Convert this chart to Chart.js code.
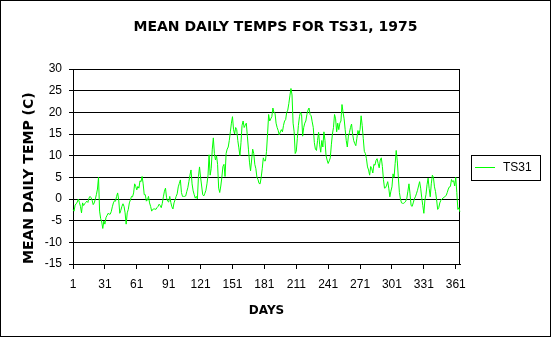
<!DOCTYPE html>
<html>
<head>
<meta charset="utf-8">
<script src="https://cdn.jsdelivr.net/npm/chart.js@4"></script>
<style>
  body { margin: 0; background: #fff; }
  canvas { display: block; }
</style>
</head>
<body>
<canvas id="chart" width="551" height="337"></canvas>
<script>
// day numbers along the x axis (categories)
const days = [];
for (let d = 1; d <= 365; d++) days.push(String(d));

// only these days get a label and a tick mark
const dayTicks = ["1", "31", "61", "91", "121", "151", "181", "211", "241", "271", "301", "331", "361"];

// y axis range
const tempMin = -15;
const tempMax = 30;
const tempStep = 5;

const seriesName = "TS31";

// mean daily temp (C)
const tempsJanMar = [
  -2.4, -2.8, -1.4, -1.1, -0.7, 0, -0.8, -1.7, -3.2, -0.9,
  -1.5, -1.1, -0.8, -0.5, -0.8, 0.2, 0.6, 0.3, -0.3, -1.3,
  -0.9, 0, 1.0, 2.3, 5.0, -2.8, -4.5, -5.3, -6.8, -5.1,
  -5.8, -4.3, -3.8, -3.3, -3.5, -3.5, -2.9, -1.8, -0.9, -0.4,
  -0.5, 0.6, 1.4, -0.2, -3.3, -2.6, -1.7, -1.1, -1.7, -3.2,
  -5.8, -3.2, -2.4, -0.9, -0.2, 0.6, 0.5, 1.4, 3.5, 2.9,
  2.1, 2.9, 2.5, 4.2, 4.0, 5.2, 3.5, 1.0, 1.0, -0.5,
  -0.2, 0.6, -0.9, -1.7, -2.8, -2.4, -2.3, -2.3, -2.4, -2.0,
  -1.7, -1.2
];
const tempsMarJun = [
  -1.5, -2.0, -1.0, 0.5, 1.8, 2.5, 0.3, -0.5, -0.7, 0.6,
  -0.8, -1.8, -2.3, -0.9, -0.2, 0.6, 1.2, 2.8, 3.6, 4.4,
  1.5, 0.6, 0.6, 0.6, 0.7, 1.7, 2.6, 4.0, 5.5, 6.7,
  3.5, 1.9, 1.0, 0.2, 0.6, 0, 5.2, 7.4, 5.0, 3.0,
  1.0, 0.7, 1.3, 2.0, 3.5, 5.5, 10.2, 5.5, 7.0, 11.5,
  14.1, 10.5, 9.0, 10.0, 8.0, 2.5, 1.5, 3.0, 5.0, 7.5,
  8.0, 5.2, 10.5, 11.5, 12.0, 13.5, 15.5, 17.5, 19.0, 16.0,
  15.0, 16.5, 16.0, 13.5, 11.8, 10.0, 13.0, 17.0, 18.0, 16.5,
  17.0, 17.5, 14.5, 11.5, 8.5, 6.5, 9.0, 11.5, 10.5, 8.0,
  7.0, 5.0, 4.5, 3.6
];
const tempsJunSep = [
  3.5, 5.0, 7.0, 9.5, 8.8, 8.8, 11.0, 15.0, 19.5, 18.0,
  18.5, 19.0, 21.0, 20.0, 19.8, 17.5, 16.5, 15.8, 14.8, 15.5,
  16.0, 15.5, 17.0, 18.0, 18.3, 20.0, 20.5, 22.0, 23.8, 25.5,
  24.0, 17.5, 15.5, 10.5, 11.0, 14.0, 17.0, 19.0, 20.0, 19.5,
  14.5, 16.5, 17.5, 18.0, 19.5, 20.5, 21.0, 19.5, 19.2, 17.8,
  16.5, 13.0, 11.5, 11.2, 13.5, 15.4, 12.5, 10.8, 13.5, 12.0,
  15.5, 13.5, 10.0, 9.0, 8.2, 8.8, 9.5, 12.5, 15.0, 16.5,
  19.5, 18.5, 15.5, 17.5, 16.0, 17.5, 18.0, 21.8, 20.0, 18.5,
  16.0, 13.5, 12.0, 14.5, 15.3, 16.5, 17.3, 15.0, 13.5, 12.8,
  12.3, 14.0, 15.8, 15.0
];
const tempsSepDec = [
  16.0, 19.2, 17.0, 14.0, 11.0, 10.5, 9.3, 7.4, 6.7, 5.5,
  7.5, 7.0, 6.0, 8.0, 7.8, 8.9, 9.3, 8.2, 7.2, 9.0,
  9.5, 7.5, 4.5, 2.5, 2.6, 3.2, 4.0, 2.5, 0.5, 1.8,
  2.8, 5.8, 5.0, 8.2, 11.2, 8.8, 5.0, 1.5, 0, -0.9,
  -1.0, -1.0, -0.8, -0.5, 0.2, 1.8, 3.5, 1.2, -1.5, -1.7,
  -0.9, 0, 0.5, 1.2, 2.0, 3.0, 4.0, 2.5, 0.3, -1.5,
  -3.3, -0.2, 1.0, 3.3, 4.8, 2.4, 0.5, 3.5, 5.5, 5.0,
  2.8, 1.7, -0.2, -2.4, -2.0, -0.9, -0.3, 0, 0.2, 0.4,
  0.6, 0.8, 1.5, 2.3, 2.8, 2.9, 4.5, 4.0, 4.2, 3.0,
  5.0, 1.5, -2.4, -2.0, -3.0
];
const temps = tempsJanMar.concat(tempsMarJun, tempsJunSep, tempsSepDec);

const tickFont = { family: "'Liberation Sans', Arial, sans-serif", size: 12 };
const boldFont = (size) => ({ family: "'DejaVu Sans', sans-serif", size: size, weight: "bold" });

// white page, outer frame, frame round the plot
const framePlugin = {
  id: "frame",
  beforeDraw(chart) {
    const ctx = chart.ctx;
    ctx.save();
    ctx.fillStyle = "#fff";
    ctx.fillRect(0, 0, chart.width, chart.height);
    ctx.restore();
  },
  beforeDatasetsDraw(chart) {
    const { ctx, chartArea: a } = chart;
    ctx.save();
    ctx.strokeStyle = "#000";
    ctx.lineWidth = 1;
    ctx.strokeRect(Math.round(a.left) + 0.5, Math.round(a.top) + 0.5,
      Math.round(a.right - a.left) - 1, Math.round(a.bottom - a.top));
    ctx.restore();
  },
  afterDraw(chart) {
    const ctx = chart.ctx;
    ctx.save();
    ctx.strokeStyle = "#000";
    ctx.lineWidth = 1;
    ctx.strokeRect(0.5, 0.5, chart.width - 1, chart.height - 1);
    ctx.restore();
  }
};

// boxed legend on the right, like the old spreadsheet one
const boxLegend = {
  id: "boxLegend",
  afterDraw(chart) {
    const ctx = chart.ctx;
    const ds = chart.data.datasets[0];
    ctx.save();
    ctx.strokeStyle = "#000";
    ctx.lineWidth = 1;
    ctx.strokeRect(471.5, 155.5, 69, 25);
    ctx.strokeStyle = ds.borderColor;
    ctx.beginPath();
    ctx.moveTo(475, 167.5);
    ctx.lineTo(495, 167.5);
    ctx.stroke();
    ctx.fillStyle = "#000";
    ctx.font = "12px 'Liberation Sans', Arial, sans-serif";
    ctx.textBaseline = "middle";
    ctx.fillText(ds.label, 503, 168);
    ctx.restore();
  }
};

new Chart(document.getElementById("chart"), {
  type: "line",
  data: {
    labels: days,
    datasets: [{
      label: seriesName,
      data: temps,
      borderColor: "#00ff00",
      borderWidth: 1,
      pointRadius: 0,
      tension: 0,
      fill: false
    }]
  },
  options: {
    responsive: false,
    animation: false,
    events: [],
    layout: { padding: 0 },
    plugins: {
      legend: { display: false },
      tooltip: { enabled: false },
      title: {
        display: true,
        text: "MEAN DAILY TEMPS FOR TS31, 1975",
        color: "#000",
        font: boldFont(14),
        padding: { top: 18.6, bottom: 33.6 }
      }
    },
    scales: {
      x: {
        type: "category",
        offset: false,
        grid: { drawOnChartArea: false, drawTicks: true, tickLength: 5, color: "#000", tickColor: "#000" },
        border: { display: true, color: "#000" },
        ticks: {
          autoSkip: false,
          maxRotation: 0,
          minRotation: 0,
          color: "#000",
          font: tickFont,
          padding: 8,
          callback: function (value) {
            const lab = this.getLabelForValue(value);
            return dayTicks.includes(lab) ? lab : null;
          }
        },
        title: {
          display: true,
          text: "DAYS",
          color: "#000",
          font: boldFont(12),
          padding: { top: 0, bottom: 18.8 }
        },
        afterFit: (scale) => { scale.width = 0; scale.height = 73; }
      },
      y: {
        min: tempMin,
        max: tempMax,
        grid: { color: "#000", tickColor: "#000", drawTicks: true, tickLength: 4 },
        border: { display: true, color: "#000" },
        ticks: { stepSize: tempStep, color: "#000", font: tickFont, padding: 7 },
        title: {
          display: true,
          text: "MEAN DAILY TEMP (C)",
          color: "#000",
          align: "start",
          font: boldFont(14),
          padding: { top: 20.6, bottom: 0 }
        },
        afterFit: (scale) => { scale.width = 73; }
      },
      // empty strip on the right that holds the legend box
      legendSpace: {
        axis: "y",
        position: "right",
        min: tempMin,
        max: tempMax,
        grid: { display: false, drawTicks: false },
        border: { display: false },
        ticks: { display: false },
        afterFit: (scale) => { scale.width = 91; }
      }
    }
  },
  plugins: [framePlugin, boxLegend]
});
</script>
</body>
</html>
